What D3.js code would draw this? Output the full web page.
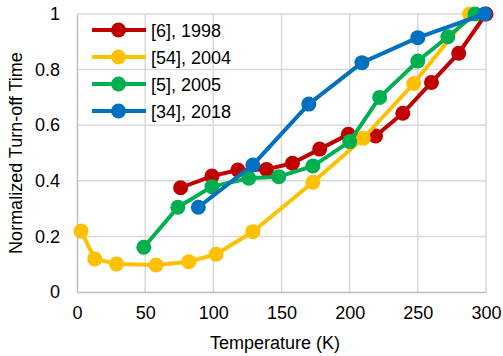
<!DOCTYPE html>
<html><head><meta charset="utf-8">
<script src="https://cdn.jsdelivr.net/npm/d3@7"></script>
<style>html,body{margin:0;padding:0;background:#fff;}svg{display:block;}</style>
</head><body><svg id="c" width="503" height="356"></svg>
<script>
const xTicks = [0, 50, 100, 150, 200, 250, 300];
const yTicks = [0, 0.2, 0.4, 0.6, 0.8, 1];
const yTickLabels = ["0", "0.2", "0.4", "0.6", "0.8", "1"];
const seriesNames = ["[6], 1998", "[54], 2004", "[5], 2005", "[34], 2018"];
const seriesColors = ["#C00000", "#FFC000", "#00B050", "#0070C0"];
const ref6_T = [76, 99, 118, 139, 158, 178, 199, 219, 239, 260, 280, 300];
const ref6_V = [0.375, 0.417, 0.439, 0.441, 0.463, 0.514, 0.567, 0.561, 0.643, 0.754, 0.859, 1.0];
const ref54_T = [3, 13, 29, 58, 82, 102, 129, 173, 210, 247, 288];
const ref54_V = [0.219, 0.119, 0.101, 0.097, 0.109, 0.136, 0.217, 0.395, 0.553, 0.75, 1.0];
const ref5_T = [49, 74, 99, 126, 148, 173, 200, 222, 250, 272, 292];
const ref5_V = [0.161, 0.305, 0.379, 0.409, 0.415, 0.453, 0.541, 0.70, 0.831, 0.918, 1.0];
const ref34_T = [89, 129, 170, 209, 250, 299];
const ref34_V = [0.305, 0.457, 0.676, 0.825, 0.915, 1.0];

const seriesT = [ref6_T, ref54_T, ref5_T, ref34_T];
const seriesV = [ref6_V, ref54_V, ref5_V, ref34_V];

const svg = d3.select("#c");
const font = "'Liberation Sans', Arial, sans-serif";
const x = d3.scaleLinear().domain([0, 300]).range([77, 486]);
const y = d3.scaleLinear().domain([0, 1]).range([292, 14]);

// gridlines
svg.append("g").selectAll("line.v").data(xTicks.slice(1)).join("line")
  .attr("x1", d => x(d)).attr("x2", d => x(d)).attr("y1", y(0)).attr("y2", y(1))
  .attr("stroke", "#d9d9d9").attr("stroke-width", 1.5);
svg.append("g").selectAll("line.h").data(yTicks.slice(1)).join("line")
  .attr("x1", x(0)).attr("x2", x(300)).attr("y1", d => y(d)).attr("y2", d => y(d))
  .attr("stroke", "#d9d9d9").attr("stroke-width", 1.5);

// axes
const xAxis = svg.append("g").attr("transform", `translate(0,${y(0)})`)
  .call(d3.axisBottom(x).tickValues(xTicks).tickSize(0).tickPadding(14));
const yAxis = svg.append("g").attr("transform", `translate(${x(0)},0)`)
  .call(d3.axisLeft(y).tickValues(yTicks).tickSize(0).tickPadding(17)
    .tickFormat((d, i) => yTickLabels[i]));
[xAxis, yAxis].forEach(a => {
  a.select(".domain").attr("stroke", "#bfbfbf").attr("stroke-width", 1.5);
  a.selectAll("text").attr("font-family", font).attr("font-size", 18).attr("fill", "#000");
});

// titles
svg.append("text").attr("x", 275).attr("y", 349).attr("text-anchor", "middle")
  .attr("font-family", font).attr("font-size", 18).text("Temperature (K)");
svg.append("text").attr("transform", "translate(22,153) rotate(-90)").attr("text-anchor", "middle")
  .attr("font-family", font).attr("font-size", 18).text("Normalized Turn-off Time");

// series
const line = d3.line().x(d => x(d[0])).y(d => y(d[1]));
seriesNames.forEach((name, i) => {
  const pts = seriesT[i].map((t, j) => [t, seriesV[i][j]]);
  const g = svg.append("g");
  g.append("path").datum(pts).attr("d", line).attr("fill", "none")
    .attr("stroke", seriesColors[i]).attr("stroke-width", 4).attr("stroke-linejoin", "round");
  g.selectAll("circle").data(pts).join("circle")
    .attr("cx", d => x(d[0])).attr("cy", d => y(d[1])).attr("r", 7.5)
    .attr("fill", seriesColors[i]);
});

// legend
const lg = svg.append("g");
seriesNames.forEach((name, i) => {
  const ly = 30 + i * 27;
  lg.append("line").attr("x1", 92).attr("x2", 146).attr("y1", ly).attr("y2", ly)
    .attr("stroke", seriesColors[i]).attr("stroke-width", 4);
  lg.append("circle").attr("cx", 118.5).attr("cy", ly).attr("r", 7.5).attr("fill", seriesColors[i]);
  lg.append("text").attr("x", 151).attr("y", ly + 6.5).attr("font-family", font)
    .attr("font-size", 18).text(name);
});
</script></body></html>
